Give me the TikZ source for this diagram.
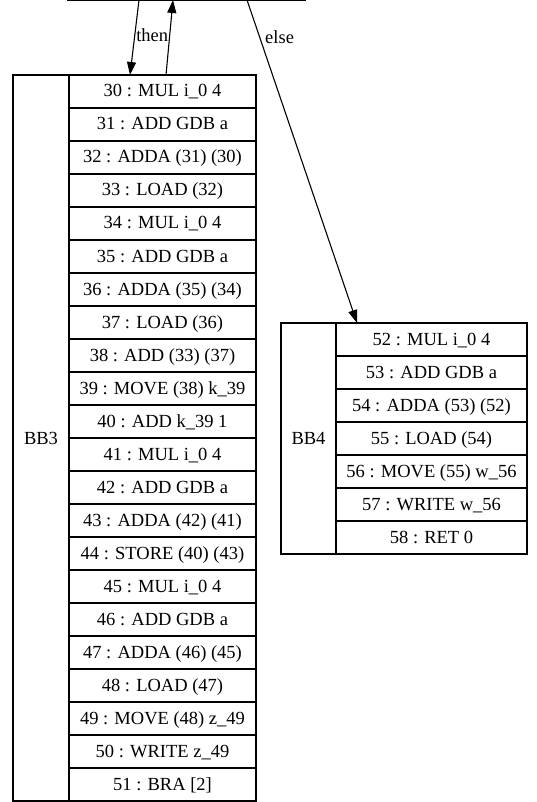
\documentclass[tikz,border=0pt]{standalone}
\usepackage{fontspec}
\setmainfont{Liberation Serif}
\usetikzlibrary{arrows.meta}
\tikzset{
  box/.style={draw, line width=1.1pt, inner sep=0pt, outer sep=0pt,
              font=\fontsize{18.5}{20}\selectfont},
  instr/.style={box, minimum width=187, minimum height=33, anchor=north west,
                text height=12.5pt, text depth=1.5pt},
  blocklabel/.style={box, anchor=north west},
  flow/.style={line width=1.1pt, -{Triangle[length=13pt,width=9pt]}},
  edgelabel/.style={font=\fontsize{18.5}{20}\selectfont, inner sep=1pt}
}
\begin{document}
\begin{tikzpicture}[x=1pt,y=1pt]
\useasboundingbox (0,0) rectangle (537,-802);
\clip (0,0) rectangle (537,-802);

% branch block above (only its lower edge is in view)
\node[box, minimum width=237, minimum height=60, anchor=south] (top) at (186.5,0) {};

% BB3
\node[blocklabel, minimum width=56, minimum height=726] (bb3) at (13,-75) {BB3};
\foreach \t [count=\i from 0] in {
  {30 : MUL i\_0 4}, {31 : ADD GDB a}, {32 : ADDA (31) (30)}, {33 : LOAD (32)},
  {34 : MUL i\_0 4}, {35 : ADD GDB a}, {36 : ADDA (35) (34)}, {37 : LOAD (36)},
  {38 : ADD (33) (37)}, {39 : MOVE (38) k\_39}, {40 : ADD k\_39 1},
  {41 : MUL i\_0 4}, {42 : ADD GDB a}, {43 : ADDA (42) (41)},
  {44 : STORE (40) (43)}, {45 : MUL i\_0 4}, {46 : ADD GDB a},
  {47 : ADDA (46) (45)}, {48 : LOAD (47)}, {49 : MOVE (48) z\_49},
  {50 : WRITE z\_49}, {51 : BRA [2]}} {
  \pgfmathtruncatemacro\n{30+\i}
  \pgfmathsetmacro\yy{-75-\i*33}
  \node[instr] (r\n) at (69,\yy) {\t};
}

% BB4
\node[blocklabel, minimum width=55, minimum height=231] (bb4) at (281,-323) {BB4};
\foreach \t [count=\i from 0] in {
  {52 : MUL i\_0 4}, {53 : ADD GDB a}, {54 : ADDA (53) (52)}, {55 : LOAD (54)},
  {56 : MOVE (55) w\_56}, {57 : WRITE w\_56}, {58 : RET 0}} {
  \pgfmathtruncatemacro\n{52+\i}
  \pgfmathsetmacro\yy{-323-\i*33}
  \node[instr, minimum width=191] (r\n) at (336,\yy) {\t};
}

% control-flow edges
\draw[flow] ([xshift=-47.5]top.south) -- node[edgelabel, right, pos=0.47] {then} ([xshift=-32.5]r30.north);
\draw[flow] ([xshift=3.5]r30.north) -- ([xshift=-13.5]top.south);
\draw[flow] ([xshift=60.5]top.south) -- node[edgelabel, pos=0.115, right, xshift=4] {else} ([xshift=-74.5]r52.north);
\end{tikzpicture}
\end{document}
